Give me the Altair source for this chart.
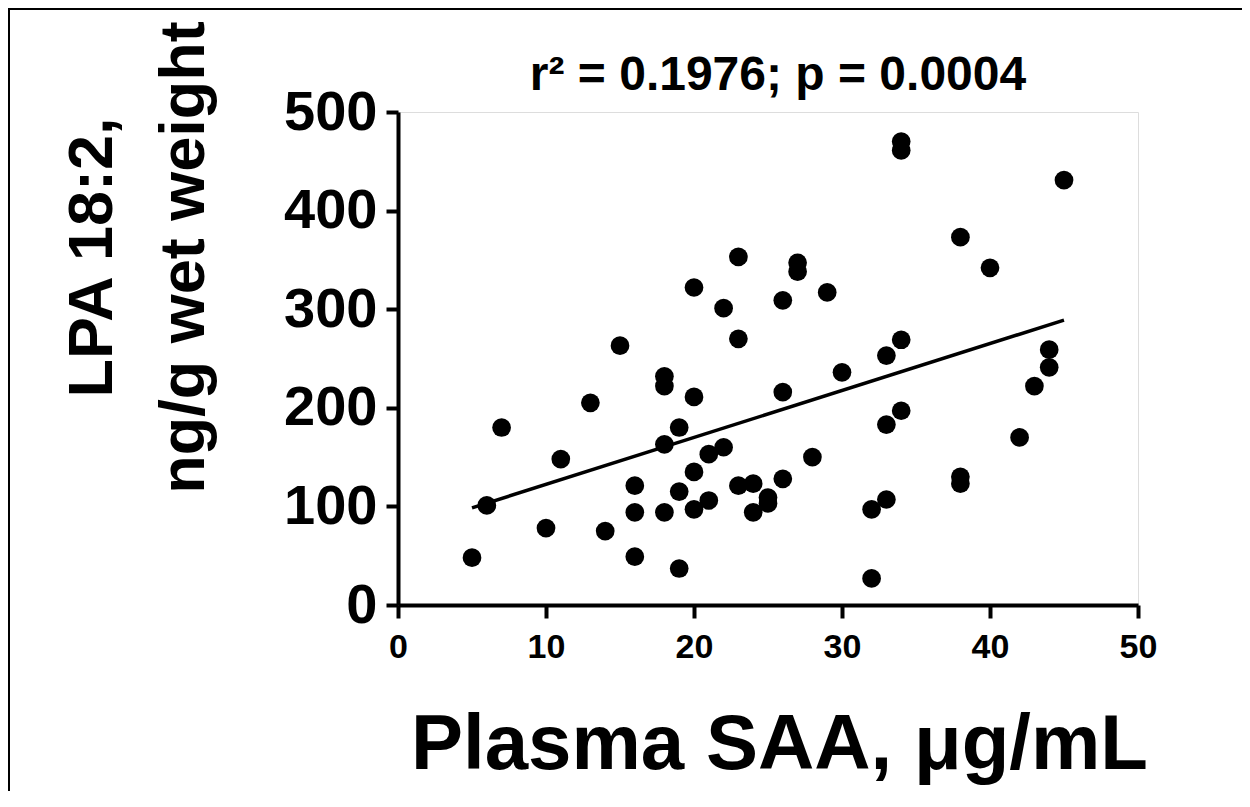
import altair as alt
import pandas as pd

# Plasma SAA (µg/mL) and LPA 18:2 (ng/g wet weight)
saa = [5, 6, 7, 10, 11, 13, 14, 15, 16, 16, 16, 18, 18, 18, 18, 19, 19, 19,
       20, 20, 20, 20, 21, 21, 22, 22, 23, 23, 23, 24, 24, 25, 25, 26, 26, 26,
       27, 27, 28, 29, 30, 32, 32, 33, 33, 33, 34, 34, 34, 34, 38, 38, 38, 40,
       42, 43, 44, 44, 45]
lpa = [48, 101, 180, 78, 148, 205, 75, 263, 121, 94, 49, 232, 222, 163, 94, 180, 115, 37,
       322, 211, 135, 97, 153, 106, 301, 160, 353, 270, 121, 123, 94, 109, 103, 309, 216, 128,
       347, 338, 150, 317, 236, 97, 27, 253, 183, 107, 470, 461, 269, 197, 373, 130, 123, 342,
       170, 222, 259, 241, 431]

x_ticks = [0, 10, 20, 30, 40, 50]
y_ticks = [0, 100, 200, 300, 400, 500]
title_text = "r² = 0.1976; p = 0.0004"
x_title = "Plasma SAA, μg/mL"
y_title = ["LPA 18:2,", "ng/g wet weight"]

df = pd.DataFrame({"saa": saa, "lpa": lpa})
FONT = "Liberation Sans, Arial, Helvetica, sans-serif"

xenc = alt.X("saa:Q", scale=alt.Scale(domain=[0, 50], nice=False),
             axis=alt.Axis(values=x_ticks, title=x_title, grid=False,
                           domainColor="black", domainWidth=4, tickColor="black",
                           tickWidth=4, tickSize=13, labelFontSize=34, labelFont=FONT,
                           labelFontWeight="bold", labelColor="black", labelPadding=12,
                           titleFont=FONT, titleFontSize=78, titleFontWeight="bold",
                           titleColor="black", titleX=381, titleY=163,
                           titleAlign="center", titleBaseline="alphabetic",
                           labelFlush=False))
yenc = alt.Y("lpa:Q", scale=alt.Scale(domain=[0, 500], nice=False),
             axis=alt.Axis(values=y_ticks, title=y_title, grid=False,
                           domainColor="black", domainWidth=4, tickColor="black",
                           tickWidth=4, tickSize=12, labelFontSize=56, labelFont=FONT,
                           labelFontWeight="bold", labelColor="black", labelPadding=9,
                           titleFont=FONT, titleFontSize=63, titleFontWeight="bold",
                           titleColor="black", titleAngle=-90, titleX=-287, titleY=145,
                           titleAlign="center", titleBaseline="alphabetic",
                           titleLineHeight=92, labelFlush=False))

points = alt.Chart(df).mark_circle(size=350, color="black", opacity=1).encode(x=xenc, y=yenc)

fit = alt.Chart(df).transform_regression("saa", "lpa", method="linear").mark_line(
    color="black", strokeWidth=3.5).encode(x="saa:Q", y="lpa:Q")

one_row = pd.DataFrame({"label": [title_text]})
title_mark = alt.Chart(one_row).mark_text(
    font=FONT, fontSize=48, fontWeight="bold", color="black",
    align="center", baseline="alphabetic").encode(
    text="label:N", x=alt.value(380), y=alt.value(-22))

frame_df = pd.DataFrame({"k": [0]})
left_border = alt.Chart(frame_df).mark_rule(color="black", strokeWidth=2).encode(
    x=alt.value(-389), y=alt.value(-103), y2=alt.value(690))
top_border = alt.Chart(frame_df).mark_rule(color="black", strokeWidth=2).encode(
    x=alt.value(-390), x2=alt.value(850), y=alt.value(-103))

chart = alt.layer(points, fit, title_mark, left_border, top_border).properties(
    width=740, height=493,
    autosize=alt.AutoSizeParams(type="none"),
    padding={"left": 390, "top": 104, "right": 104, "bottom": 186},
).configure_view(stroke=None).configure(background="white")

chart.save("out.html", embed_options={"renderer": "svg", "actions": False})
